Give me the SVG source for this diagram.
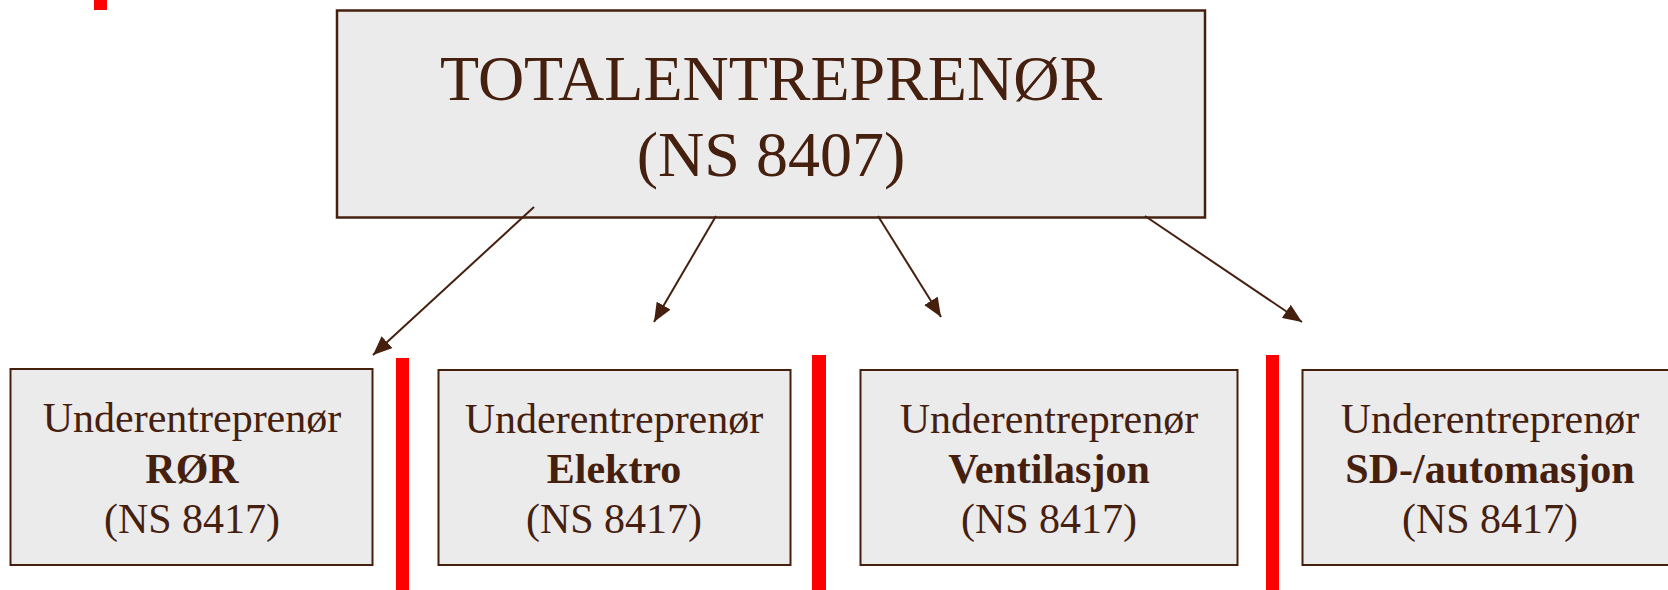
<svg xmlns="http://www.w3.org/2000/svg" width="1668" height="590" viewBox="0 0 1668 590">
  <style>
    .box { fill: #ebebeb; stroke: #45200f; }
    .t { font-family: "Liberation Serif", "Times New Roman", serif; fill: #45200f; text-anchor: middle; }
    .sub { font-size: 42px; }
    .b { font-weight: bold; }
    .bar { fill: #ff0000; }
    .conn { stroke: #45200f; stroke-width: 2; fill: none; marker-end: url(#ah); }
  </style>
  <defs>
    <marker id="ah" markerUnits="userSpaceOnUse" markerWidth="19" markerHeight="16" viewBox="0 0 19 16" refX="19" refY="8" orient="auto">
      <path d="M0,0 L19,8 L0,16 z" fill="#45200f"/>
    </marker>
  </defs>
  <rect width="1668" height="590" fill="#ffffff"/>
  <rect class="bar" x="94" y="0" width="13" height="10"/>
  <g id="totalentreprenor">
    <rect class="box" x="337" y="10.5" width="868" height="207" stroke-width="2.5"/>
    <text class="t" x="771" y="100" font-size="64">TOTALENTREPRENØR</text>
    <text class="t" x="771" y="176" font-size="64">(NS 8407)</text>
  </g>
  <g id="ror">
    <rect class="box" x="10.5" y="369" width="362" height="196" stroke-width="2"/>
    <text class="t sub" x="192" y="432">Underentreprenør</text>
    <text class="t sub b" x="192" y="483">RØR</text>
    <text class="t sub" x="192" y="533">(NS 8417)</text>
  </g>
  <g id="elektro">
    <rect class="box" x="438.5" y="370" width="352" height="195" stroke-width="2"/>
    <text class="t sub" x="614" y="433">Underentreprenør</text>
    <text class="t sub b" x="614" y="483">Elektro</text>
    <text class="t sub" x="614" y="533">(NS 8417)</text>
  </g>
  <g id="ventilasjon">
    <rect class="box" x="860.5" y="370" width="377" height="195" stroke-width="2"/>
    <text class="t sub" x="1049" y="433">Underentreprenør</text>
    <text class="t sub b" x="1049" y="483">Ventilasjon</text>
    <text class="t sub" x="1049" y="533">(NS 8417)</text>
  </g>
  <g id="automasjon">
    <rect class="box" x="1302.5" y="370" width="380" height="195" stroke-width="2"/>
    <text class="t sub" x="1490" y="433">Underentreprenør</text>
    <text class="t sub b" x="1490" y="483">SD-/automasjon</text>
    <text class="t sub" x="1490" y="533">(NS 8417)</text>
  </g>
  <g id="separators">
    <rect class="bar" x="396" y="358" width="13" height="232"/>
    <rect class="bar" x="812" y="355" width="14" height="235"/>
    <rect class="bar" x="1266" y="355" width="13" height="235"/>
  </g>
  <g id="connectors">
    <line class="conn" x1="534" y1="207" x2="373" y2="355"/>
    <line class="conn" x1="716" y1="216" x2="654" y2="322"/>
    <line class="conn" x1="878" y1="216" x2="941" y2="317"/>
    <line class="conn" x1="1145" y1="216" x2="1302" y2="322"/>
  </g>
</svg>
